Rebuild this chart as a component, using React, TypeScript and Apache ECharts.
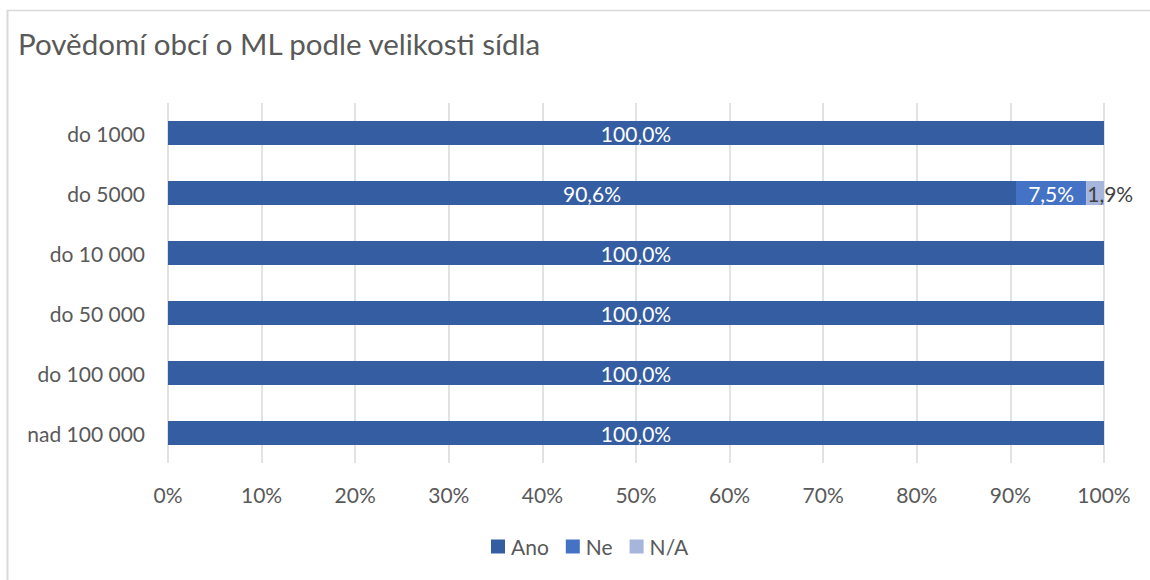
import React, { useEffect, useRef } from "react";
import * as echarts from "echarts";

const categories = ["do 1000", "do 5000", "do 10 000", "do 50 000", "do 100 000", "nad 100 000"];
const anoValues = [100, 90.6, 100, 100, 100, 100];
const neValues = [0, 7.5, 0, 0, 0, 0];
const naValues = [0, 1.9, 0, 0, 0, 0];
const seriesNames = ["Ano", "Ne", "N/A"];
const xTickStep = 10;

const FONT = "Lato, 'Open Sans', sans-serif";
const fmt = (v: number) => (v ? v.toFixed(1).replace(".", ",") + "%" : "");

export default function App() {
  const ref = useRef<HTMLDivElement>(null);
  useEffect(() => {
    const chart = echarts.init(ref.current!, null, { renderer: "svg" });
    const labelBase = {
      show: true,
      fontFamily: FONT,
      fontSize: 21,
      formatter: (p: any) => fmt(p.value),
    };
    chart.setOption({
      animation: false,
      backgroundColor: "#fff",
      title: {
        text: "Povědomí obcí o ML podle velikosti sídla",
        left: 13,
        top: 23,
        textStyle: { fontFamily: FONT, fontSize: 29.5, fontWeight: "normal", color: "#595959" },
      },
      graphic: [
        { type: "line", shape: { x1: 7.5, y1: 10, x2: 7.5, y2: 580 }, style: { stroke: "#d9d9d9", lineWidth: 2 } },
        { type: "line", shape: { x1: 7, y1: 10.5, x2: 1150, y2: 10.5 }, style: { stroke: "#d9d9d9", lineWidth: 1.5 } },
      ],
      legend: {
        data: seriesNames,
        bottom: 18,
        left: 486,
        icon: "rect",
        itemWidth: 14,
        itemHeight: 14,
        itemGap: 17,
        textStyle: { fontFamily: FONT, fontSize: 21, color: "#595959", padding: [0, 0, 0, 1] },
      },
      grid: { left: 168, right: 46, top: 103, bottom: 117, containLabel: false },
      xAxis: {
        type: "value",
        min: 0,
        max: 100,
        interval: xTickStep,
        axisLine: { show: false },
        axisTick: { show: false },
        splitLine: { lineStyle: { color: "#d9d9d9", width: 1.5 } },
        axisLabel: {
          formatter: "{value}%",
          fontFamily: FONT,
          fontSize: 21,
          color: "#595959",
          margin: 21,
        },
      },
      yAxis: {
        type: "category",
        data: categories,
        inverse: true,
        axisLine: { show: false },
        axisTick: { show: false },
        axisLabel: { fontFamily: FONT, fontSize: 21, color: "#595959", margin: 23 },
      },
      series: [
        {
          name: "Ano",
          type: "bar",
          stack: "s",
          barWidth: "40%",
          data: anoValues,
          itemStyle: { color: "#355ea2" },
          label: { ...labelBase, position: "inside", color: "#fff" },
        },
        {
          name: "Ne",
          type: "bar",
          stack: "s",
          data: neValues,
          itemStyle: { color: "#4472c4" },
          label: { ...labelBase, position: "inside", color: "#fff" },
        },
        {
          name: "N/A",
          type: "bar",
          stack: "s",
          data: naValues,
          itemStyle: { color: "#a6b5dc" },
          label: { ...labelBase, position: "insideLeft", distance: 1, color: "#404040" },
        },
      ],
    });
    return () => chart.dispose();
  }, []);
  return (
    <div
      ref={ref}
      style={{ position: "fixed", left: 0, top: 0, width: 1150, height: 580 }}
    />
  );
}
